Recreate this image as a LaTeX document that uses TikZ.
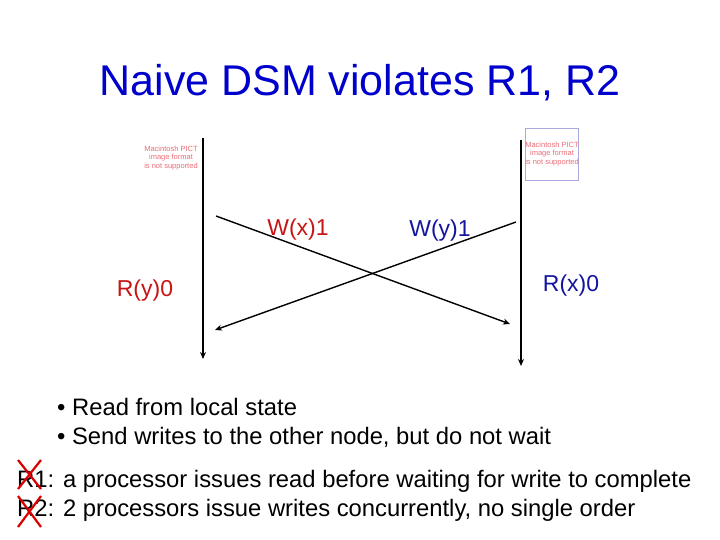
\documentclass[tikz,border=0pt]{standalone}
\usepackage{fontspec}
\setmainfont{Liberation Sans}
\usetikzlibrary{arrows.meta}
\definecolor{titleblue}{RGB}{0,0,204}
\definecolor{lblred}{RGB}{200,20,20}
\definecolor{lblblue}{RGB}{20,20,160}
\definecolor{pictpink}{RGB}{235,110,120}
\definecolor{pictframe}{RGB}{170,170,220}
\tikzset{
  timeline/.style={line width=1.6pt,-{Stealth[length=7pt,width=6pt]}},
  msg/.style={line width=1.4pt,-{Stealth[length=7pt,width=6pt]}},
  lbl/.style={font=\fontsize{23}{26}\selectfont, inner sep=0pt},
  body/.style={font=\fontsize{23.8}{28}\selectfont, inner sep=0pt, anchor=west},
  pict/.style={font=\fontsize{7.5}{8.5}\selectfont, text=pictpink, align=center, inner sep=1pt},
  cross/.style={draw=red!85!black, line width=2.2pt}
}
\begin{document}
\begin{tikzpicture}[x=1pt,y=-1pt]
\useasboundingbox (0,0) rectangle (720,540);
\fill[white] (0,0) rectangle (720,540);
\node[font=\fontsize{43}{50}\selectfont, text=titleblue, inner sep=0pt] (title) at (360,83) {Naive DSM violates R1, R2};
% PICT placeholders
\node[pict] (pictL) at (171,158) {Macintosh PICT\\image format\\is not supported};
\node[pict, draw=pictframe, line width=0.6pt, minimum width=51pt, minimum height=52pt, inner sep=0pt] (pictR) at (552,154) {Macintosh PICT\\image format\\is not supported};
% timelines
\coordinate (LT) at (203,138);
\coordinate (LB) at (203,359);
\coordinate (RT) at (521,140);
\coordinate (RB) at (521,366);
\draw[timeline] (LT) -- (LB);
\draw[timeline] (RT) -- (RB);
% messages
\coordinate (m1s) at (216,216);
\coordinate (m1e) at (510,324);
\coordinate (m2s) at (516,222);
\coordinate (m2e) at (215,330);
\draw[msg] (m1s) -- (m1e);
\draw[msg] (m2s) -- (m2e);
% labels
\node[lbl, text=lblred] (wx) at (298,230) {W(x)1};
\node[lbl, text=lblblue] (wy) at (440,231) {W(y)1};
\node[lbl, text=lblred] (ry) at (145,291) {R(y)0};
\node[lbl, text=lblblue] (rx) at (571,286) {R(x)0};
% body text
\node[body] (b1) at (57,407) {\textbullet{} Read from local state};
\node[body] (b2) at (57,437) {\textbullet{} Send writes to the other node, but do not wait};
\node[body] (r1) at (17,481) {R1: a processor issues read before waiting for write to complete};
\node[body] (r2) at (17,510) {R2: 2 processors issue writes concurrently, no single order};
% red crosses
\draw[cross] (18,460) -- (41,489) (41,460) -- (18,489);
\draw[cross] (18,496) -- (41,527) (41,496) -- (18,527);
\end{tikzpicture}
\end{document}
